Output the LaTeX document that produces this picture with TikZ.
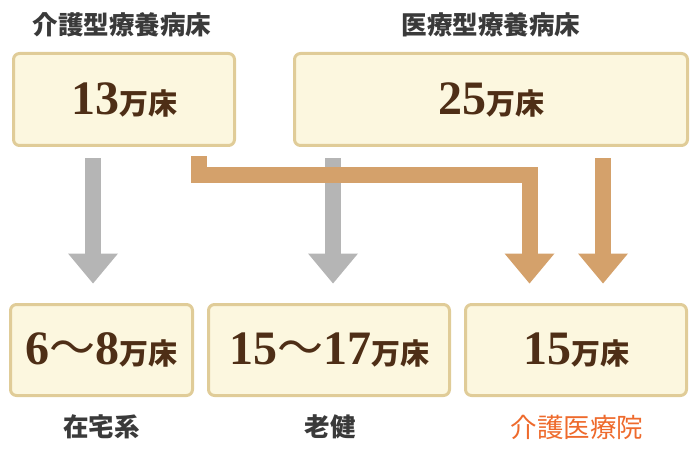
\documentclass[tikz,border=0pt]{standalone}
\usepackage{fontspec}
\setmainfont{Liberation Serif}
\newfontfamily\cjk{Noto Sans CJK JP}
\usetikzlibrary{arrows.meta}
\definecolor{boxfill}{HTML}{FCF7DF}
\definecolor{boxline}{HTML}{E0CC98}
\definecolor{grayarrow}{HTML}{B5B5B5}
\definecolor{orangearrow}{HTML}{D4A16B}
\definecolor{numbrown}{HTML}{4E2E16}
\definecolor{labelgray}{HTML}{3A3A3A}
\definecolor{orangetext}{HTML}{EE6A2C}
\newcommand\mbunit{{\cjk\bfseries\fontsize{29}{29}\selectfont 万床}}
\newcommand\mbwave{{\cjk\mdseries\fontsize{46}{46}\selectfont 〜}}
\tikzset{
  valbox/.style={draw=boxline, fill=boxfill, line width=3pt, rounded corners=6pt,
    inner sep=0pt, text=numbrown, font=\bfseries\fontsize{48}{48}\selectfont},
  cat/.style={text=labelgray, font=\cjk\bfseries\fontsize{25.5}{25.5}\selectfont, inner sep=0pt},
  flow/.style={line width=16pt, -{Triangle[width=50pt,length=30pt,line width=0pt]}},
  grayflow/.style={flow, draw=grayarrow},
  orangeflow/.style={flow, draw=orangearrow},
}
\begin{document}
\begin{tikzpicture}[x=1pt,y=-1pt]
\useasboundingbox (0,0) rectangle (698,462);
% boxes
\node[valbox, minimum width=221pt, minimum height=92pt] (a) at (124,99.5) {13\mbunit};
\node[valbox, minimum width=393pt, minimum height=92pt] (b) at (491,99.5) {25\mbunit};
\node[valbox, minimum width=182pt, minimum height=91pt] (d) at (101.5,350) {6\mbwave 8\mbunit};
\node[valbox, minimum width=241pt, minimum height=91pt] (e) at (329,350) {15\mbwave 17\mbunit};
\node[valbox, minimum width=221pt, minimum height=91pt] (f) at (576,350) {15\mbunit};
% labels
\node[cat] (la) at (122,25) {介護型療養病床};
\node[cat] (lb) at (491,25) {医療型療養病床};
\node[cat] (ld) at (101.5,427) {在宅系};
\node[cat] (le) at (330,427) {老健};
\node[cat, text=orangetext, font=\cjk\mdseries\fontsize{26.5}{26.5}\selectfont] (lf) at (577,427) {介護医療院};
% arrow guides
\coordinate (x1) at (93,0);
\coordinate (x2) at (333,0);
\coordinate (x3) at (603,0);
\coordinate (t1) at (199,175);
\coordinate (t2) at (529.5,175);
% arrows
\draw[grayflow, shorten <=11.5pt, shorten >=19.5pt] (a.south -| x1) -- (d.north -| x1);
\draw[grayflow, shorten <=11.5pt, shorten >=19.5pt] (b.south -| x2) -- (e.north -| x2);
\draw[orangeflow, shorten <=11.5pt, shorten >=19.5pt] (b.south -| x3) -- (f.north -| x3);
\draw[orangeflow, shorten <=9.5pt, shorten >=19.5pt] (a.south -| t1) -- (t1) -- (t2) -- (f.north -| t2);
\end{tikzpicture}
\end{document}
